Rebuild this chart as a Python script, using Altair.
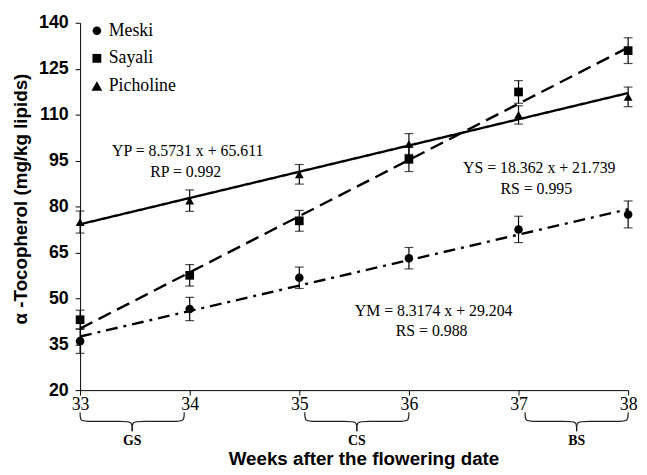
import altair as alt
import pandas as pd

# ---- data ----
weeks = [33, 34, 35, 36, 37, 38]
series = ["Meski", "Sayali", "Picholine"]
shapes = ["circle", "square", "triangle-up"]
meski = [36.0, 46.5, 56.7, 63.1, 72.5, 77.4]
meski_err = [4.0, 3.8, 3.5, 3.5, 4.3, 4.4]
sayali = [43.0, 57.5, 75.3, 95.4, 117.4, 130.9]
sayali_err = [3.1, 3.5, 3.4, 4.0, 3.7, 4.2]
picholine = [74.9, 81.9, 90.5, 100.4, 109.9, 115.8]
picholine_err = [3.6, 3.5, 3.2, 3.4, 3.0, 3.2]

# printed regression equations (x = week index 1..6)
slopes = [8.3174, 18.362, 8.5731]
intercepts = [29.204, 21.739, 65.611]
eq_text = ["YM = 8.3174 x + 29.204", "YS = 18.362 x + 21.739", "YP = 8.5731 x + 65.611"]
r_text = ["RS = 0.988", "RS = 0.995", "RP = 0.992"]

stages = ["GS", "CS", "BS"]
stage_start = [33.0, 35.05, 37.06]
stage_end = [33.95, 36.0, 38.0]

y_ticks = [20, 35, 50, 65, 80, 95, 110, 125, 140]

# ---- tables ----
rows = []
for name, vals, errs in zip(series, [meski, sayali, picholine], [meski_err, sayali_err, picholine_err]):
    for w, v, e in zip(weeks, vals, errs):
        rows.append({"series": name, "week": w, "value": v, "lo": v - e, "hi": v + e})
pts = pd.DataFrame(rows)

trend_rows = []
for name, a, b in zip(series, slopes, intercepts):
    for w in (weeks[0], weeks[-1]):
        trend_rows.append({"fit": name, "week": w, "value": a * (w - weeks[0] + 1) + b})
trend = pd.DataFrame(trend_rows)

# brace geometry (decoration under the axis, y in data units below the domain)
top_v, mid_v, tip_v, r = 12.8, 9.8, 6.6, 0.07
brace_rows = []
for lab, s, e in zip(stages, stage_start, stage_end):
    m = (s + e) / 2
    left = [(s, top_v), (s, mid_v), (s + r, mid_v), (m - r, mid_v), (m, mid_v), (m, tip_v)]
    right = [(e, top_v), (e, mid_v), (e - r, mid_v), (m + r, mid_v), (m, mid_v), (m, tip_v)]
    for half, path in (("L", left), ("R", right)):
        for i, (x, y) in enumerate(path):
            brace_rows.append({"grp": lab + half, "week": x, "value": y, "ord": i})
braces = pd.DataFrame(brace_rows)
brace_labels = pd.DataFrame({"stage": stages,
                             "week": [(s + e) / 2 for s, e in zip(stage_start, stage_end)]})

# ---- scales / axes ----
xscale = alt.Scale(domain=[33, 38], nice=False, zero=False)
yscale = alt.Scale(domain=[20, 140], nice=False, zero=False)

xaxis = alt.Axis(values=weeks, format="d", grid=False, labelFlush=False,
                 labelFont="Liberation Serif", labelFontSize=18, labelColor="black",
                 labelPadding=1, tickSize=5, tickColor="black", domainColor="black",
                 title="Weeks after the flowering date", titleFont="Liberation Sans",
                 titleFontSize=19, titleFontWeight="bold", titleColor="black",
                 titleX=287, titleY=75, titleAlign="center", titleBaseline="alphabetic")
yaxis = alt.Axis(values=y_ticks, grid=False,
                 labelFont="Liberation Sans", labelFontSize=18, labelFontWeight="bold",
                 labelColor="black", labelPadding=7, tickSize=5, tickColor="black",
                 domainColor="black",
                 title="α -Tocopherol (mg/kg lipids)", titleFont="Liberation Sans",
                 titleFontSize=19, titleFontWeight="bold", titleColor="black",
                 titleAngle=270, titleX=-54, titleY=178, titleAlign="center",
                 titleBaseline="alphabetic")

X = alt.X("week:Q", scale=xscale, axis=xaxis)
Y = alt.Y("value:Q", scale=yscale, axis=yaxis)

base = alt.Chart(pts)

lines = alt.Chart(trend).mark_line(color="black", strokeWidth=2.4).encode(
    x=X, y=Y,
    strokeDash=alt.StrokeDash("fit:N",
                              scale=alt.Scale(domain=series, range=[[12, 6, 3, 6], [14, 7], [1, 0]]),
                              legend=None),
)

err = base.mark_rule(color="black", strokeWidth=1.2).encode(
    x="week:Q", y="lo:Q", y2="hi:Q")
cap_lo = base.mark_tick(color="black", orient="horizontal", size=9, thickness=1.2).encode(
    x="week:Q", y="lo:Q")
cap_hi = base.mark_tick(color="black", orient="horizontal", size=9, thickness=1.2).encode(
    x="week:Q", y="hi:Q")

points = base.mark_point(filled=True, color="black", opacity=1).encode(
    x="week:Q", y="value:Q",
    shape=alt.Shape("series:N", scale=alt.Scale(domain=series, range=shapes), legend=None),
    size=alt.Size("series:N", scale=alt.Scale(domain=series, range=[75, 80, 120]), legend=None),
)

brace_lines = alt.Chart(braces).mark_line(color="#222222", strokeWidth=1.2,
                                          interpolate="basis").encode(
    x="week:Q", y="value:Q", detail="grp:N", order="ord:Q")
brace_text = alt.Chart(brace_labels).mark_text(
    font="Liberation Serif", fontSize=14, fontWeight="bold", color="black",
    baseline="alphabetic").encode(x="week:Q", y=alt.value(428), text="stage:N")

# legend drawn in the top-left corner of the plot
legend_layers = []
sym_sizes = [75, 80, 120]
for i, (name, shp, sz) in enumerate(zip(series, shapes, sym_sizes)):
    d = pd.DataFrame({"s": [name]})
    legend_layers.append(alt.Chart(d).mark_point(filled=True, color="black", opacity=1,
                                                 shape=shp, size=sz).encode(
        x=alt.value(17), y=alt.value(8 + 28 * i)))
    legend_layers.append(alt.Chart(d).mark_text(
        font="Liberation Serif", fontSize=18, color="black", align="left",
        baseline="middle").encode(x=alt.value(29), y=alt.value(8 + 28 * i), text="s:N"))

# equation annotations (pixel positions in plot area)
eq_pos = [(358, 292, 356, 312), (465, 147, 462, 168), (109, 130, 107, 151)]
ann = []
for t1, t2, (x1, y1, x2, y2) in zip(eq_text, r_text, eq_pos):
    ann.append(alt.Chart(pd.DataFrame({"t": [t1]})).mark_text(
        font="Liberation Serif", fontSize=16, color="black", baseline="middle").encode(
        x=alt.value(x1), y=alt.value(y1), text="t:N"))
    ann.append(alt.Chart(pd.DataFrame({"t": [t2]})).mark_text(
        font="Liberation Serif", fontSize=16, color="black", baseline="middle").encode(
        x=alt.value(x2), y=alt.value(y2), text="t:N"))

chart = alt.layer(lines, err, cap_lo, cap_hi, points, brace_lines, brace_text,
                  *legend_layers, *ann).properties(
    width=555, height=372,
    autosize=alt.AutoSizeParams(type="none"),
    padding={"left": 73, "top": 12, "right": 11, "bottom": 83},
).configure_view(stroke=None)

chart.save("out.html", embed_options={"renderer": "svg", "actions": False})
